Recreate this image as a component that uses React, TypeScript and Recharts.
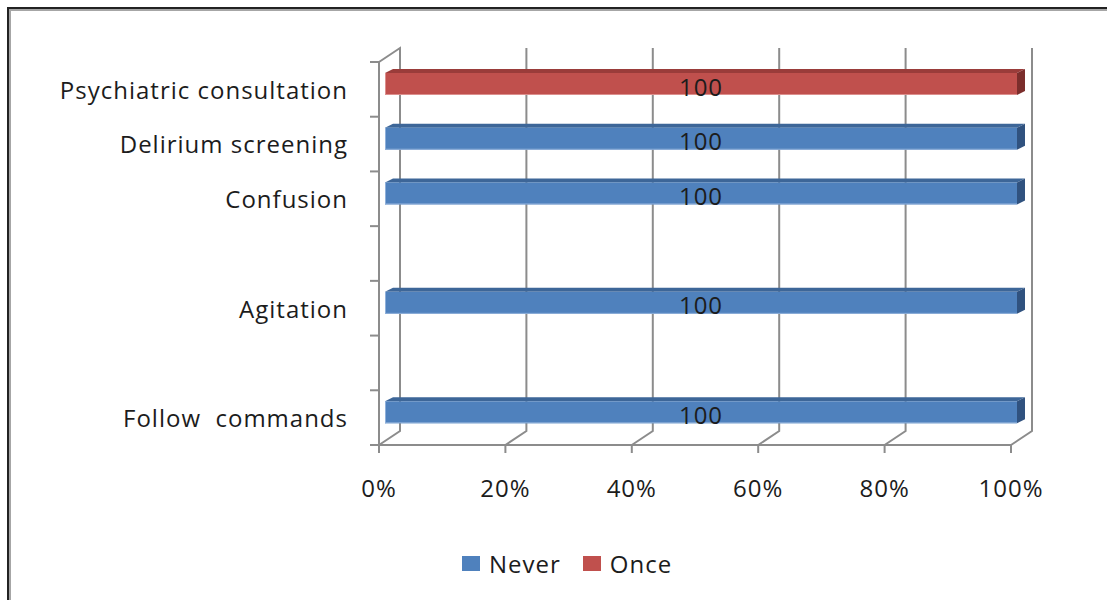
import { BarChart, Bar, XAxis, YAxis, CartesianGrid, Legend, LabelList } from 'recharts';

const categories = [
  'Psychiatric consultation',
  'Delirium screening',
  'Confusion',
  ' ',
  'Agitation',
  '  ',
  'Follow  commands',
];
const never = [0, 100, 100, null, 100, null, 100];
const once = [100, 0, 0, null, 0, null, 0];
const xTicks = [0, 20, 40, 60, 80, 100];

const data = categories.map((name, i) => ({ name, never: never[i], once: once[i] }));

const FONT = '"Open Sans", Lato, sans-serif';
const FS = 24;
const LS = 1;
const INK = '#1c1c1c';
const GRID = '#8c8c8c';
const PLOT_H = 383;

// fake 3D: back wall offset, bar depth, and bar shift to mid-depth
const WALL_DX = 21;
const WALL_DY = -14;
const BAR_DX = 8;
const BAR_DY = -4;
const SHIFT_X = 6;
const SHIFT_Y = -5;

const palette: Record<string, { front: string; top: string; side: string; edge: string }> = {
  never: { front: '#4f81bd', top: '#3d6698', side: '#30527f', edge: '#8fb0da' },
  once: { front: '#c0504d', top: '#9a3c3a', side: '#7b2e2c', edge: '#dc8f8d' },
};

function bar3d(key: string) {
  const c = palette[key];
  return (props: any) => {
    const { x, y, width, height } = props;
    if (!width || width <= 0 || !height) return <g />;
    const x0 = x + SHIFT_X;
    const y0 = y + SHIFT_Y;
    const x1 = x0 + width;
    const y1 = y0 + height;
    return (
      <g>
        <polygon
          points={`${x0},${y0} ${x0 + BAR_DX},${y0 + BAR_DY} ${x1 + BAR_DX},${y0 + BAR_DY} ${x1},${y0}`}
          fill={c.top}
        />
        <polygon
          points={`${x1},${y0} ${x1 + BAR_DX},${y0 + BAR_DY} ${x1 + BAR_DX},${y1 + BAR_DY} ${x1},${y1}`}
          fill={c.side}
        />
        <rect x={x0} y={y0} width={width} height={height} fill={c.front} />
        <line x1={x0} y1={y1 - 0.5} x2={x1} y2={y1 - 0.5} stroke={c.edge} strokeWidth={1} />
        <line x1={x0 + 0.5} y1={y0} x2={x0 + 0.5} y2={y1} stroke={c.edge} strokeWidth={1} />
      </g>
    );
  };
}

const barLabel = (props: any) => {
  const vb = props.viewBox ?? props;
  const { x, y, width, height } = vb;
  if (!props.value) return null;
  return (
    <text
      x={x + width / 2 + SHIFT_X}
      y={y + height / 2 + SHIFT_Y + 2}
      textAnchor="middle"
      dominantBaseline="central"
      fontSize={FS}
      fontFamily={FONT}
      letterSpacing={LS}
      fill={INK}
    >
      {props.value}
    </text>
  );
};

// back wall gridlines + floor diagonals
const wallLine = (props: any) => {
  const { x1, y1, y2, index } = props;
  const bx = x1 + WALL_DX;
  const d =
    index === 0
      ? `M${x1},${y1} L${bx},${y1 + WALL_DY} L${bx},${y2 + WALL_DY} L${x1},${y2}`
      : `M${bx},${y1 + WALL_DY} L${bx},${y2 + WALL_DY} L${x1},${y2}`;
  return <path key={`wall-${index}`} d={d} fill="none" stroke={GRID} strokeWidth={2} />;
};

const CategoryTick = (props: any) => {
  const { x, y, payload, index } = props;
  const half = payload.offset || PLOT_H / categories.length / 2;
  const tx = x + 22;
  return (
    <g>
      <line x1={tx} x2={tx + 9} y1={y - half} y2={y - half} stroke={GRID} strokeWidth={2} />
      {index === categories.length - 1 && (
        <line x1={tx} x2={tx + 9} y1={y + half} y2={y + half} stroke={GRID} strokeWidth={2} />
      )}
      <text
        x={x}
        y={y + 1}
        dy="0.35em"
        textAnchor="end"
        fontSize={FS}
        fontFamily={FONT}
        letterSpacing={LS}
        fill={INK}
        style={{ whiteSpace: 'pre' }}
      >
        {payload.value}
      </text>
    </g>
  );
};

const renderLegend = (props: any) => (
  <div style={{ display: 'flex', alignItems: 'center', fontFamily: FONT, fontSize: FS, letterSpacing: LS, color: INK }}>
    {(props.payload || []).map((entry: any) => (
      <span key={entry.value} style={{ display: 'flex', alignItems: 'center', marginRight: 22 }}>
        <span style={{ width: 18, height: 15, background: entry.color, marginRight: 9, display: 'inline-block' }} />
        {entry.value}
      </span>
    ))}
  </div>
);

export default function App() {
  return (
    <div style={{ position: 'absolute', left: 0, top: 0, width: 1107, height: 600, background: '#fff', overflow: 'hidden' }}>
      <div style={{ position: 'absolute', left: 7, top: 7, width: 1200, height: 700, borderLeft: '2px solid #222', borderTop: '2px solid #222' }}>
        <div style={{ position: 'absolute', left: 0, top: 0, width: 1200, height: 700, borderLeft: '2px solid #a6a6a6', borderTop: '2px solid #a6a6a6' }} />
      </div>
      <div style={{ position: 'absolute', left: 0, top: 0 }}>
        <BarChart
          width={1107}
          height={600}
          data={data}
          layout="vertical"
          margin={{ top: 62, right: 96, bottom: 95, left: 0 }}
          barSize={22}
        >
          <CartesianGrid horizontal={false} vertical={wallLine} />
          <XAxis
            type="number"
            domain={[0, 100]}
            ticks={xTicks}
            tickFormatter={(v) => `${v}%`}
            axisLine={{ stroke: GRID, strokeWidth: 2 }}
            tickLine={{ stroke: GRID, strokeWidth: 2 }}
            tickSize={8}
            tickMargin={27}
            height={60}
            tick={{ fontSize: FS, fill: INK, fontFamily: FONT, letterSpacing: LS }}
          />
          <YAxis
            type="category"
            dataKey="name"
            width={379}
            interval={0}
            axisLine={{ stroke: GRID, strokeWidth: 2 }}
            tickLine={false}
            tickSize={9}
            tickMargin={22}
            tick={<CategoryTick />}
          />
          <Legend
            verticalAlign="middle"
            align="center"
            content={renderLegend}
            wrapperStyle={{ top: 547, left: 462, width: 320, height: 34 }}
          />
          <Bar dataKey="never" name="Never" stackId="a" fill={palette.never.front} shape={bar3d('never')} isAnimationActive={false}>
            <LabelList dataKey="never" content={barLabel} />
          </Bar>
          <Bar dataKey="once" name="Once" stackId="a" fill={palette.once.front} shape={bar3d('once')} isAnimationActive={false}>
            <LabelList dataKey="once" content={barLabel} />
          </Bar>
        </BarChart>
      </div>
    </div>
  );
}
